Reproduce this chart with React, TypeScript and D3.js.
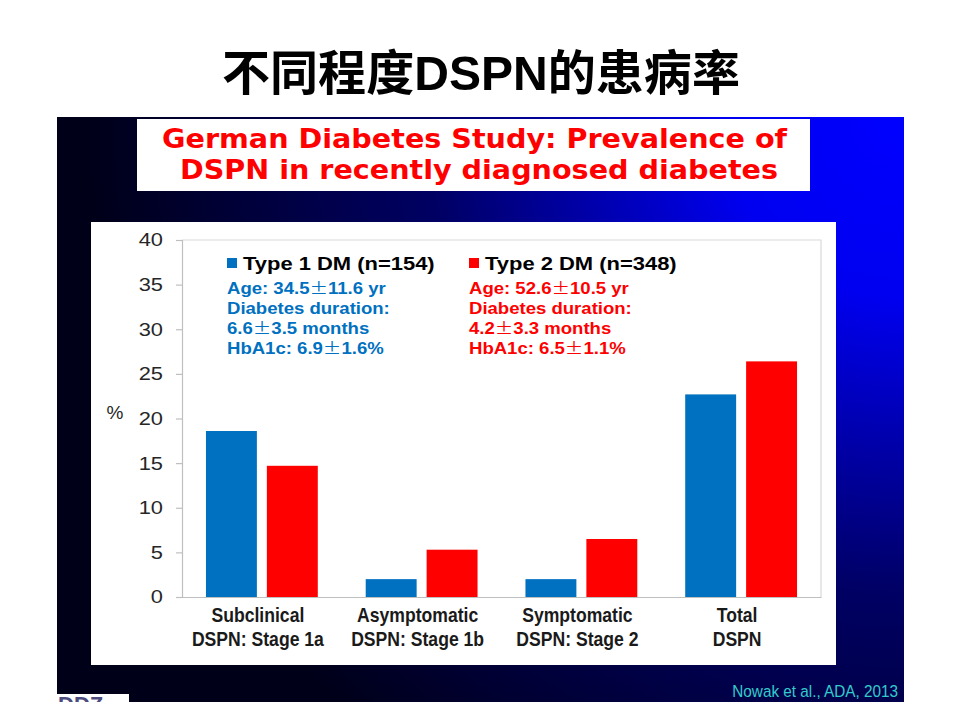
import { useRef, useEffect } from "react";
import * as d3 from "d3";

// chart values
const categories = ["Subclinical\nDSPN: Stage 1a", "Asymptomatic\nDSPN: Stage 1b", "Symptomatic\nDSPN: Stage 2", "Total\nDSPN"];
const type1Values = [18.6, 2.0, 2.0, 22.7];
const type2Values = [14.7, 5.3, 6.5, 26.4];
const yTicks = [0, 5, 10, 15, 20, 25, 30, 35, 40];
const seriesNames = ["Type 1 DM (n=154)", "Type 2 DM (n=348)"];
const type1Notes = ["Age: 34.5±11.6 yr", "Diabetes duration:", "6.6±3.5 months", "HbA1c: 6.9±1.6%"];
const type2Notes = ["Age: 52.6±10.5 yr", "Diabetes duration:", "4.2±3.3 months", "HbA1c: 6.5±1.1%"];

const BLUE = "#0070c0";
const RED = "#ff0000";
const SANS = "'Liberation Sans', Arial, sans-serif";

export default function App() {
  const svgRef = useRef<SVGSVGElement>(null);

  useEffect(() => {
    if (!svgRef.current) return;
    const svg = d3.select(svgRef.current);
    svg.selectAll("*").remove();

    const W = 960;
    const H = 720;
    svg.attr("width", W).attr("height", H);

    svg.append("rect").attr("width", W).attr("height", H).attr("fill", "#ffffff");

    // Slide title
    svg
      .append("text")
      .attr("x", 481)
      .attr("y", 90)
      .attr("text-anchor", "middle")
      .attr("font-family", "'Liberation Sans', 'Noto Sans CJK SC', sans-serif")
      .attr("font-weight", "bold")
      .attr("font-size", 48)
      .attr("textLength", 518)
      .attr("lengthAdjust", "spacingAndGlyphs")
      .attr("fill", "#000")
      .text("不同程度DSPN的患病率");

    // Blue backdrop
    const defs = svg.append("defs");
    const grad = defs
      .append("radialGradient")
      .attr("id", "bg-grad")
      .attr("gradientUnits", "userSpaceOnUse")
      .attr("cx", 904)
      .attr("cy", 117)
      .attr("r", 820);
    grad.append("stop").attr("offset", "0%").attr("stop-color", "#0000ff");
    grad.append("stop").attr("offset", "22%").attr("stop-color", "#0000f0");
    grad.append("stop").attr("offset", "58%").attr("stop-color", "#000064");
    grad.append("stop").attr("offset", "100%").attr("stop-color", "#000018");

    svg.append("rect").attr("x", 57).attr("y", 117).attr("width", 847).attr("height", 585).attr("fill", "url(#bg-grad)");

    // small logo corner
    svg.append("rect").attr("x", 57).attr("y", 694).attr("width", 72).attr("height", 8).attr("fill", "#ffffff");
    defs.append("clipPath").attr("id", "logo-clip").append("rect").attr("x", 57).attr("y", 694).attr("width", 72).attr("height", 8);
    svg
      .append("text")
      .attr("clip-path", "url(#logo-clip)")
      .attr("x", 58)
      .attr("y", 712)
      .attr("font-family", SANS)
      .attr("font-weight", "bold")
      .attr("font-size", 22)
      .attr("fill", "#4b4b80")
      .text("DDZ");

    // Study title box
    svg.append("rect").attr("x", 137).attr("y", 119).attr("width", 673).attr("height", 72).attr("fill", "#ffffff");
    const titleLines = [
      { text: "German Diabetes Study: Prevalence of", x: 474.5, y: 148, len: 625 },
      { text: "DSPN in recently diagnosed diabetes", x: 479, y: 179, len: 598 },
    ];
    titleLines.forEach((l) => {
      svg
        .append("text")
        .attr("x", l.x)
        .attr("y", l.y)
        .attr("text-anchor", "middle")
        .attr("font-family", "'DejaVu Sans', Verdana, sans-serif")
        .attr("font-weight", "bold")
        .attr("font-size", 26)
        .attr("textLength", l.len)
        .attr("lengthAdjust", "spacingAndGlyphs")
        .attr("fill", RED)
        .text(l.text);
    });

    // Chart panel
    svg.append("rect").attr("x", 91).attr("y", 222).attr("width", 745).attr("height", 443).attr("fill", "#ffffff");

    const plot = { left: 182, right: 821, top: 240, bottom: 597 };

    const x0 = d3
      .scaleBand<number>()
      .domain(d3.range(categories.length))
      .range([plot.left, plot.right])
      .paddingInner(0.3)
      .paddingOuter(0.15);

    const x1 = d3
      .scaleBand<number>()
      .domain([0, 1])
      .range([0, x0.bandwidth()])
      .paddingInner(0.164)
      .paddingOuter(0);

    const y = d3.scaleLinear().domain([0, 40]).range([plot.bottom, plot.top]);

    const g = svg.append("g");

    // plot frame (top & right)
    g.append("path")
      .attr("d", `M${plot.left},${plot.top}H${plot.right}V${plot.bottom}`)
      .attr("fill", "none")
      .attr("stroke", "#d9d9d9")
      .attr("stroke-width", 1.2);

    // Bars
    const series = [type1Values, type2Values];
    const colors = [BLUE, RED];
    series.forEach((vals, si) => {
      g.selectAll(`.bar-${si}`)
        .data(vals)
        .enter()
        .append("rect")
        .attr("x", (_, i) => (x0(i) ?? 0) + (x1(si) ?? 0))
        .attr("y", (d) => y(d))
        .attr("width", x1.bandwidth())
        .attr("height", (d) => y(0) - y(d))
        .attr("fill", colors[si]);
    });

    // Y axis
    const yAxis = g
      .append("g")
      .attr("transform", `translate(${plot.left},0)`)
      .call(d3.axisLeft(y).tickValues(yTicks).tickSize(6));
    yAxis.select(".domain").attr("stroke", "#bfbfbf").attr("stroke-width", 1.2);
    yAxis.selectAll(".tick line").attr("stroke", "#bfbfbf").attr("stroke-width", 1.2);
    // labels are a little wide on the slide
    yAxis
      .selectAll(".tick text")
      .attr("x", 0)
      .attr("transform", "translate(-19,0) scale(1.18,1)")
      .attr("font-family", SANS)
      .attr("font-size", 18.5)
      .attr("fill", "#262626");

    // X axis
    const xAxis = g
      .append("g")
      .attr("transform", `translate(0,${plot.bottom})`)
      .call(d3.axisBottom(x0).tickSize(0).tickFormat(() => ""));
    xAxis.select(".domain").attr("stroke", "#bfbfbf").attr("stroke-width", 1.2);
    xAxis.selectAll(".tick text").remove();

    // category labels use a narrow face on the slide
    categories.forEach((c, i) => {
      const cx = (x0(i) ?? 0) + x0.bandwidth() / 2 - 4;
      const t = g
        .append("text")
        .attr("transform", `translate(${cx},0) scale(0.88,1)`)
        .attr("text-anchor", "middle")
        .attr("font-family", SANS)
        .attr("font-weight", "bold")
        .attr("font-size", 20)
        .attr("fill", "#1a1a1a");
      c.split("\n").forEach((line, li) => {
        t.append("tspan").attr("x", 0).attr("y", 622 + li * 24).text(line);
      });
    });

    // "%" label
    g.append("text")
      .attr("x", 115)
      .attr("y", 419)
      .attr("text-anchor", "middle")
      .attr("font-family", SANS)
      .attr("font-size", 19)
      .attr("fill", "#262626")
      .text("%");

    // Legend
    const legendX = [227, 469];
    const notes = [type1Notes, type2Notes];
    seriesNames.forEach((name, si) => {
      const lx = legendX[si];
      g.append("rect").attr("x", lx).attr("y", 258).attr("width", 10).attr("height", 10).attr("fill", colors[si]);
      g.append("text")
        .attr("transform", `translate(${lx + 16},270) scale(1.22,1)`)
        .attr("font-family", SANS)
        .attr("font-weight", "bold")
        .attr("font-size", 18)
        .attr("fill", "#000")
        .text(name);
      notes[si].forEach((n, ni) => {
        const t = g
          .append("text")
          .attr("transform", `translate(${lx},${294 + ni * 20}) scale(1.16,1)`)
          .attr("font-family", SANS)
          .attr("font-weight", "bold")
          .attr("font-size", 16)
          .attr("fill", colors[si]);
        // the ± sign is a full-width glyph on the slide
        n.split("±").forEach((part, pi) => {
          if (pi > 0) {
            t.append("tspan").attr("font-family", "'Noto Sans CJK SC'").attr("font-weight", "normal").text("±");
          }
          t.append("tspan").text(part);
        });
      });
    });

    // Source
    svg
      .append("text")
      .attr("transform", "translate(898,697) scale(0.9,1)")
      .attr("text-anchor", "end")
      .attr("font-family", SANS)
      .attr("font-size", 17)
      .attr("fill", "#33cccc")
      .text("Nowak et al., ADA, 2013");
  }, []);

  return (
    <div style={{ position: "absolute", left: 0, top: 0 }}>
      <svg ref={svgRef} style={{ display: "block" }} />
    </div>
  );
}
